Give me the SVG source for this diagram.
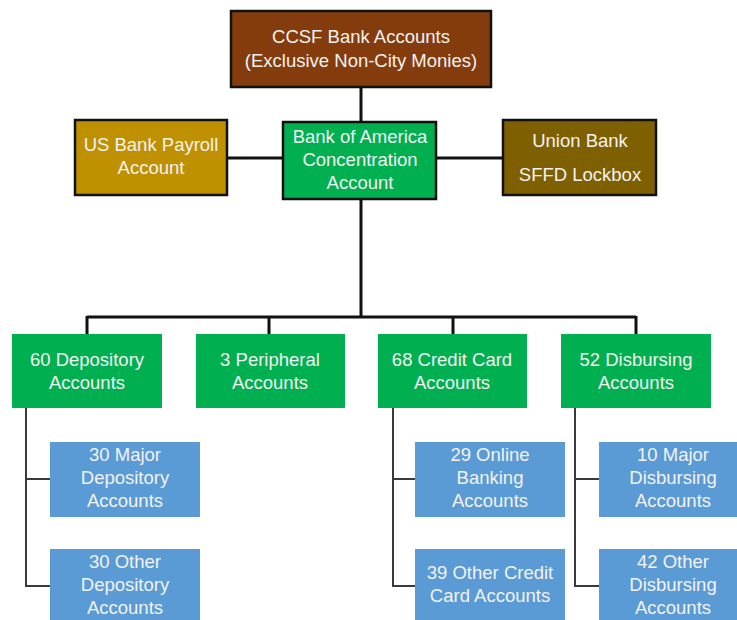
<svg xmlns="http://www.w3.org/2000/svg" width="737" height="620" viewBox="0 0 737 620">
<style>
.t{font-family:"Liberation Sans",Arial,sans-serif;font-size:18.5px;fill:#f2f2f2;text-anchor:middle}
.bx{stroke:#111;stroke-width:2.5}
.c1{fill:none;stroke:#111;stroke-width:3}
.c2{fill:none;stroke:#3a3a3a;stroke-width:2}
</style>
<rect width="737" height="620" fill="#fff"/>
<g id="connectors">
<path class="c1" d="M361,87V122M227,158H283M436,158H503M361,199V317M87,317H636M87,316V334M269,316V334M453,316V334M636,316V334"/>
<path class="c2" d="M26,408V586H50M26,479H50M393,408V586H415M393,479H415M575,408V586H599M575,479H599"/>
</g>
<g id="ccsf"><rect class="bx" x="231" y="11" width="260" height="76" fill="#843C0C"/><text class="t" x="361" y="43">CCSF Bank Accounts</text><text class="t" x="361" y="67">(Exclusive Non-City Monies)</text></g>
<g id="usbank"><rect class="bx" x="75" y="120" width="152" height="75" fill="#BF9000"/><text class="t" x="151" y="151">US Bank Payroll</text><text class="t" x="151" y="174">Account</text></g>
<g id="boa"><rect class="bx" x="283" y="122" width="153" height="77" fill="#00B050"/><text class="t" x="360" y="143">Bank of America</text><text class="t" x="360" y="166">Concentration</text><text class="t" x="360" y="189">Account</text></g>
<g id="union"><rect class="bx" x="503" y="120" width="153" height="75" fill="#7F6000"/><text class="t" x="580" y="147">Union Bank</text><text class="t" x="580" y="181">SFFD Lockbox</text></g>
<g id="dep"><rect x="12" y="334" width="150" height="74" fill="#00B050"/><text class="t" x="87" y="366">60 Depository</text><text class="t" x="87" y="389">Accounts</text></g>
<g id="per"><rect x="196" y="334" width="149" height="74" fill="#00B050"/><text class="t" x="270" y="366">3 Peripheral</text><text class="t" x="270" y="389">Accounts</text></g>
<g id="cc"><rect x="378" y="334" width="149" height="74" fill="#00B050"/><text class="t" x="452" y="366">68 Credit Card</text><text class="t" x="452" y="389">Accounts</text></g>
<g id="disb"><rect x="561" y="334" width="150" height="74" fill="#00B050"/><text class="t" x="636" y="366">52 Disbursing</text><text class="t" x="636" y="389">Accounts</text></g>
<g id="majdep"><rect x="50" y="442" width="150" height="75" fill="#5B9BD5"/><text class="t" x="125" y="461">30 Major</text><text class="t" x="125" y="484">Depository</text><text class="t" x="125" y="507">Accounts</text></g>
<g id="othdep"><rect x="50" y="549" width="150" height="75" fill="#5B9BD5"/><text class="t" x="125" y="568">30 Other</text><text class="t" x="125" y="591">Depository</text><text class="t" x="125" y="614">Accounts</text></g>
<g id="online"><rect x="415" y="442" width="150" height="75" fill="#5B9BD5"/><text class="t" x="490" y="461">29 Online</text><text class="t" x="490" y="484">Banking</text><text class="t" x="490" y="507">Accounts</text></g>
<g id="othcc"><rect x="415" y="549" width="150" height="75" fill="#5B9BD5"/><text class="t" x="490" y="579">39 Other Credit</text><text class="t" x="490" y="602">Card Accounts</text></g>
<g id="majdisb"><rect x="599" y="442" width="150" height="75" fill="#5B9BD5"/><text class="t" x="673" y="461">10 Major</text><text class="t" x="673" y="484">Disbursing</text><text class="t" x="673" y="507">Accounts</text></g>
<g id="othdisb"><rect x="599" y="549" width="150" height="75" fill="#5B9BD5"/><text class="t" x="673" y="568">42 Other</text><text class="t" x="673" y="591">Disbursing</text><text class="t" x="673" y="614">Accounts</text></g>
</svg>
